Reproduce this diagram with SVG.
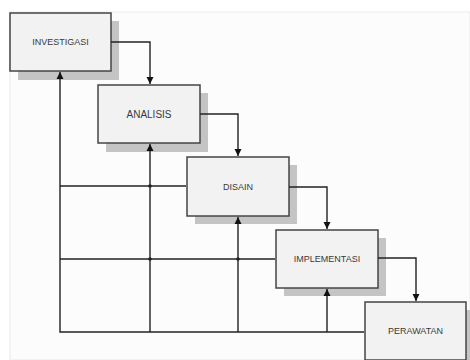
<svg xmlns="http://www.w3.org/2000/svg" width="470" height="360" viewBox="0 0 470 360">
<defs>
<style>
.shadow{fill:#c4c4c4}
.box{fill:#f2f2f2;stroke:#444;stroke-width:1.5}
.lbl{font-family:"Liberation Sans",Arial,sans-serif;font-size:9px;fill:#3a3a3a;text-anchor:middle;dominant-baseline:central}
.ln{fill:none;stroke:#222;stroke-width:1.4}
.dot{fill:#222}
</style>
<marker id="ah" viewBox="0 0 10 10" refX="10" refY="5" markerWidth="7" markerHeight="9" markerUnits="userSpaceOnUse" orient="auto">
<path d="M0,0 L10,5 L0,10 z" fill="#111"/>
</marker>
</defs>
<rect x="0" y="0" width="470" height="360" fill="#ffffff"/>
<rect x="10" y="12" width="460" height="348" fill="#fcfcfc" stroke="#e6e6e6" stroke-width="0.8"/>
<g id="investigasi">
<rect class="shadow" x="18" y="21" width="101" height="59"/>
<rect class="box" x="10" y="13" width="101" height="58"/>
<text class="lbl" x="60.5" y="42">INVESTIGASI</text>
</g>
<g id="analisis">
<rect class="shadow" x="106" y="93" width="102" height="59"/>
<rect class="box" x="98" y="85" width="102" height="58"/>
<text class="lbl" x="149" y="114" style="font-size:10px">ANALISIS</text>
</g>
<g id="disain">
<rect class="shadow" x="195" y="165" width="102" height="59"/>
<rect class="box" x="187" y="157" width="102" height="59"/>
<text class="lbl" x="238" y="186.5">DISAIN</text>
</g>
<g id="implementasi">
<rect class="shadow" x="284" y="238" width="102" height="58"/>
<rect class="box" x="276" y="230" width="102" height="58"/>
<text class="lbl" x="327" y="259">IMPLEMENTASI</text>
</g>
<g id="perawatan">
<rect class="shadow" x="372" y="310" width="102" height="58"/>
<rect class="box" x="365" y="302" width="101" height="58"/>
<text class="lbl" x="415.5" y="331">PERAWATAN</text>
</g>
<g id="connectors">
<path class="ln" d="M111,42 H150 V84" marker-end="url(#ah)"/>
<path class="ln" d="M200,114 H238 V156" marker-end="url(#ah)"/>
<path class="ln" d="M289,187 H327 V229" marker-end="url(#ah)"/>
<path class="ln" d="M378,258 H416 V301" marker-end="url(#ah)"/>
<path class="ln" d="M364,332 H60 V72" marker-end="url(#ah)"/>
<path class="ln" d="M150,332 V144" marker-end="url(#ah)"/>
<path class="ln" d="M238,332 V217" marker-end="url(#ah)"/>
<path class="ln" d="M327,332 V289" marker-end="url(#ah)"/>
<path class="ln" d="M60,186 H186"/>
<path class="ln" d="M60,259 H275"/>
<circle class="dot" cx="150" cy="186" r="1.8"/>
<circle class="dot" cx="150" cy="259" r="1.8"/>
<circle class="dot" cx="238" cy="259" r="1.8"/>
</g>
</svg>
